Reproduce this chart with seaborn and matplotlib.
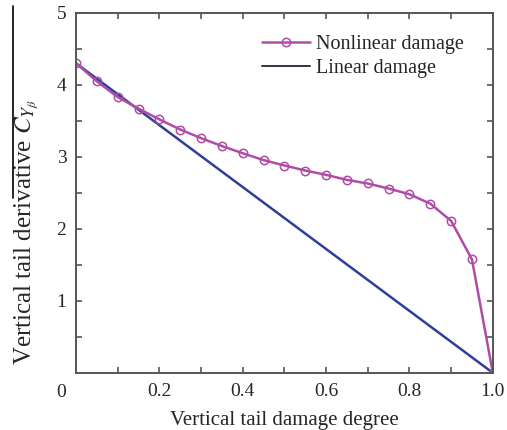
import numpy as np
import pandas as pd
import matplotlib
matplotlib.use("Agg")
import matplotlib.pyplot as plt
import seaborn as sns
from matplotlib.lines import Line2D

damage = [0.0, 0.05, 0.10, 0.15, 0.20, 0.25, 0.30, 0.35, 0.40, 0.45, 0.50,
          0.55, 0.60, 0.65, 0.70, 0.75, 0.80, 0.85, 0.90, 0.95, 1.0]
nonlinear = [4.30, 4.05, 3.83, 3.67, 3.52, 3.38, 3.26, 3.15, 3.05, 2.955, 2.88,
             2.81, 2.75, 2.68, 2.63, 2.56, 2.48, 2.35, 2.11, 1.575, 0.0]
linear_x = [0.0, 1.0]
linear_y = [4.30, 0.0]
xtick_vals = [0.2, 0.4, 0.6, 0.8, 1.0]
xtick_labels = ["0.2", "0.4", "0.6", "0.8", "1.0"]
ytick_vals = [1, 2, 3, 4, 5]

sns.set_theme(style="ticks")
plt.rcParams['font.family'] = ['Liberation Serif', 'DejaVu Serif']
plt.rcParams['mathtext.fontset'] = 'stix'

MAG = "#B04CA6"
BLUE = "#2F3F98"
SPINE = "#555555"

fig = plt.figure(figsize=(5.07, 4.30), dpi=100)
ax = fig.add_axes([0.150, 0.133, 0.822, 0.837])

df_nl = pd.DataFrame({"x": damage, "y": nonlinear})
df_l = pd.DataFrame({"x": linear_x, "y": linear_y})

sns.lineplot(data=df_l, x="x", y="y", ax=ax, color=BLUE, lw=1.8, legend=False)
sns.lineplot(data=df_nl, x="x", y="y", ax=ax, color=MAG, lw=1.8, marker="o",
             markersize=6, markerfacecolor="none", markeredgecolor=MAG,
             markeredgewidth=1.1, legend=False)

ax.set_xlim(0, 1.0)
ax.set_ylim(0, 5)
ax.set_xticks(xtick_vals)
ax.set_xticklabels(xtick_labels)
ax.set_xticks(np.arange(0.1, 1.0, 0.2), minor=True)
ax.set_yticks(ytick_vals)
ax.set_yticks(np.arange(0.5, 5.0, 1.0), minor=True)
ax.tick_params(which="both", direction="in", top=True, right=True,
               length=4, width=1.2, color=SPINE, labelsize=14, pad=7)
for s in ax.spines.values():
    s.set_color(SPINE)
    s.set_linewidth(1.4)

ax.text(-0.035, -0.03, "0", transform=ax.transAxes, ha="center", va="top",
        fontsize=14)

ax.set_xlabel("Vertical tail damage degree", fontsize=15, labelpad=8)
ax.set_ylabel(r"Vertical tail derivative $C_{Y_\beta}$", fontsize=18)
ax.yaxis.set_label_coords(-0.083, 0.39)

handles = [
    Line2D([], [], color=MAG, lw=1.8, marker="o", markersize=6,
           markerfacecolor="none", markeredgewidth=1.1),
    Line2D([], [], color="#333344", lw=1.4),
]
ax.legend(handles, ["Nonlinear damage", "Linear damage"], loc="upper right",
          bbox_to_anchor=(0.975, 0.988), frameon=False, fontsize=14.5,
          handlelength=2.4, handletextpad=0.3, labelspacing=0.2)

fig.add_artist(Line2D([13 / 507, 13 / 507], [1 - 6 / 430, 1 - 198 / 430],
                      transform=fig.transFigure, color="black", lw=1.2))

fig.savefig("out.png", dpi=100)
